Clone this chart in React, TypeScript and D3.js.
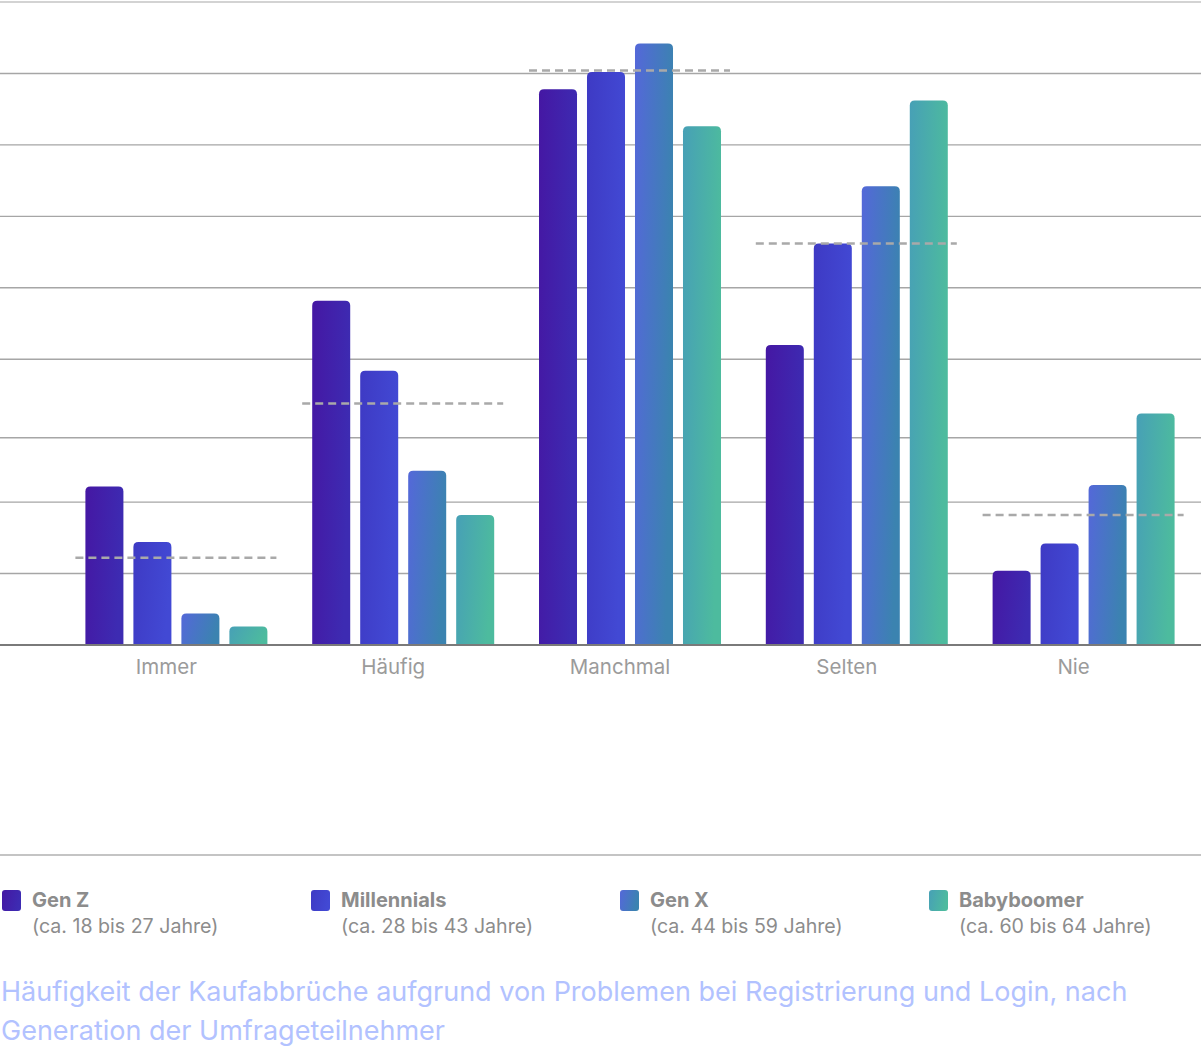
import React, { useRef, useEffect } from 'react';
import * as d3 from 'd3';

// categories (x axis)
const categories = ['Immer', 'Häufig', 'Manchmal', 'Selten', 'Nie'];

// series
const seriesNames = ['Gen Z', 'Millennials', 'Gen X', 'Babyboomer'];
const seriesAges = ['(ca. 18 bis 27 Jahre)', '(ca. 28 bis 43 Jahre)', '(ca. 44 bis 59 Jahre)', '(ca. 60 bis 64 Jahre)'];

// values in %, per category
const genZ = [11.1, 24.1, 38.9, 21.0, 5.2];
const millennials = [7.2, 19.2, 40.1, 28.1, 7.1];
const genX = [2.2, 12.2, 42.1, 32.1, 11.2];
const babyboomer = [1.3, 9.1, 36.3, 38.1, 16.2];

// overall average per category (dashed lines)
const average = [6.1, 16.9, 40.2, 28.1, 9.1];

// gridline values (labels are not shown in the original)
const gridTicks = [0, 5, 10, 14.5, 20, 25, 30, 35, 40, 45];

const titleLines = [
  'Häufigkeit der Kaufabbrüche aufgrund von Problemen bei Registrierung und Login, nach',
  'Generation der Umfrageteilnehmer',
];

const gradients = [
  ['#4517a3', '#3d2bb2'],
  ['#3e3ac4', '#4249d4'],
  ['#5468d9', '#3b83b0'],
  ['#47a0b6', '#4dbb9e'],
];

const WIDTH = 1201;
const HEIGHT = 1051;

const topRounded = (x: number, y: number, w: number, h: number, r: number) => {
  const rr = Math.min(r, h, w / 2);
  return `M${x},${y + h}V${y + rr}Q${x},${y} ${x + rr},${y}H${x + w - rr}Q${x + w},${y} ${x + w},${y + rr}V${y + h}Z`;
};

const App: React.FC = () => {
  const svgRef = useRef<SVGSVGElement>(null);

  useEffect(() => {
    if (!svgRef.current) return;
    document.body.style.margin = '0';

    const svg = d3.select(svgRef.current);
    svg.selectAll('*').remove();

    const font = 'Inter, "Noto Sans", sans-serif';

    const rows = categories.map((c, i) => ({
      category: c,
      values: [genZ[i], millennials[i], genX[i], babyboomer[i]],
      avg: average[i],
    }));

    const x0 = d3.scaleBand().domain(categories).range([63, 1197]);
    const x1 = d3.scaleBand().domain(seriesNames).range([-91, 91]).paddingInner(0.208);
    const y = d3.scaleLinear().domain([0, 45]).range([645, 2]);

    // gradients
    const defs = svg.append('defs');
    gradients.forEach((g, i) => {
      const lg = defs
        .append('linearGradient')
        .attr('id', `grad${i}`)
        .attr('x1', 0)
        .attr('y1', 0)
        .attr('x2', 1)
        .attr('y2', 0.25);
      lg.append('stop').attr('offset', '0%').attr('stop-color', g[0]);
      lg.append('stop').attr('offset', '100%').attr('stop-color', g[1]);
    });

    // gridlines
    svg
      .append('g')
      .selectAll('line')
      .data(gridTicks.filter((t) => t > 0))
      .enter()
      .append('line')
      .attr('x1', 0)
      .attr('x2', WIDTH)
      .attr('y1', (d) => y(d))
      .attr('y2', (d) => y(d))
      .attr('stroke', (d) => (d === 45 ? '#c4c4c4' : '#a6a6a6'))
      .attr('stroke-width', 1.4);

    // bars
    const groups = svg
      .append('g')
      .selectAll('g')
      .data(rows)
      .enter()
      .append('g')
      .attr('transform', (d) => `translate(${(x0(d.category) || 0) + x0.bandwidth() / 2},0)`);

    groups
      .selectAll('path')
      .data((d) => d.values.map((v, i) => ({ v, i })))
      .enter()
      .append('path')
      .attr('d', (d) =>
        topRounded(x1(seriesNames[d.i]) || 0, y(d.v), x1.bandwidth(), y(0) - y(d.v), 5)
      )
      .attr('fill', (d) => `url(#grad${d.i})`);

    // average dashed lines
    groups
      .append('line')
      .attr('x1', -101)
      .attr('x2', 100)
      .attr('y1', (d) => y(d.avg))
      .attr('y2', (d) => y(d.avg))
      .attr('stroke', '#a9a9a9')
      .attr('stroke-width', 2.5)
      .attr('stroke-dasharray', '8,5');

    // baseline axis
    svg
      .append('line')
      .attr('x1', 0)
      .attr('x2', WIDTH)
      .attr('y1', y(0))
      .attr('y2', y(0))
      .attr('stroke', '#7a7a7a')
      .attr('stroke-width', 2);

    // category labels
    groups
      .append('text')
      .attr('x', -10)
      .attr('y', 667)
      .attr('dy', '0.35em')
      .attr('text-anchor', 'middle')
      .style('font-family', font)
      .style('font-size', '20.5px')
      .attr('fill', '#9b9b9b')
      .text((d) => d.category);

    // separator line above legend
    svg
      .append('line')
      .attr('x1', 0)
      .attr('x2', WIDTH)
      .attr('y1', 855)
      .attr('y2', 855)
      .attr('stroke', '#b0b0b0')
      .attr('stroke-width', 1.5);

    // legend
    const legend = svg
      .append('g')
      .selectAll('g')
      .data(seriesNames)
      .enter()
      .append('g')
      .attr('transform', (_, i) => `translate(${2 + i * 309},0)`);

    legend
      .append('rect')
      .attr('x', 0)
      .attr('y', 890)
      .attr('width', 19)
      .attr('height', 21)
      .attr('rx', 3)
      .attr('fill', (_, i) => `url(#grad${i})`);

    legend
      .append('text')
      .attr('x', 30)
      .attr('y', 900)
      .attr('dy', '0.35em')
      .style('font-family', font)
      .style('font-size', '20px')
      .style('font-weight', 700)
      .attr('fill', '#8c8c8c')
      .text((d) => d);

    legend
      .append('text')
      .attr('x', 30)
      .attr('y', 926)
      .attr('dy', '0.35em')
      .style('font-family', font)
      .style('font-size', '19.6px')
      .attr('fill', '#8c8c8c')
      .text((_, i) => seriesAges[i]);

    // title / caption
    svg
      .append('g')
      .selectAll('text')
      .data(titleLines)
      .enter()
      .append('text')
      .attr('x', 1)
      .attr('y', (_, i) => 992 + i * 39)
      .attr('dy', '0.35em')
      .style('font-family', font)
      .style('font-size', '27px')
      .attr('fill', '#b2c2ff')
      .text((d) => d);
  }, []);

  return (
    <div style={{ position: 'absolute', left: 0, top: 0 }}>
      <svg ref={svgRef} width={WIDTH} height={HEIGHT} style={{ display: 'block', background: '#fff' }} />
    </div>
  );
};

export default App;
